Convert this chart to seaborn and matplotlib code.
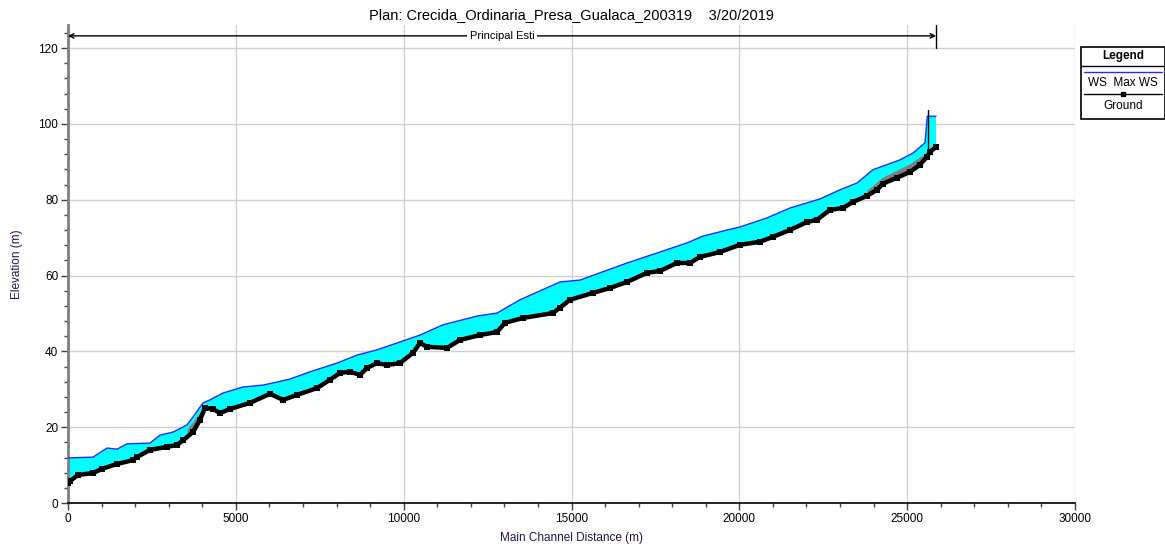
import numpy as np
import pandas as pd
import matplotlib
matplotlib.use("Agg")
import matplotlib.pyplot as plt
import seaborn as sns
from matplotlib.ticker import MultipleLocator
from matplotlib.patches import Rectangle
from matplotlib.lines import Line2D

# ---------------- data ----------------
title_text = "Plan: Crecida_Ordinaria_Presa_Gualaca_200319    3/20/2019"
reach_label = "Principal Esti"
reach_start = 0
reach_end = 25860

ws_dist = [0, 745, 1162, 1460, 1758, 2443, 2740, 3128, 3545, 3724, 4022, 4230,
           4617, 5213, 5809, 6226, 6613, 7209, 8014, 8609, 9205, 9801, 10486,
           11171, 12184, 12780, 13465, 14657, 15252, 15938, 16653, 17636, 18440,
           18917, 19632, 20019, 20823, 21508, 22402, 22998, 23504, 23981, 24785,
           25173, 25530, 25600, 25680, 25860]
ws_elev = [11.9, 12.1, 14.5, 14.2, 15.6, 15.8, 17.9, 18.7, 20.6, 22.7, 26.4, 27.2,
           29.0, 30.6, 31.1, 31.9, 32.7, 34.6, 36.9, 39.0, 40.4, 42.2, 44.3,
           47.0, 49.3, 50.1, 53.6, 58.3, 58.8, 61.0, 63.3, 66.2, 68.6,
           70.4, 72.0, 72.8, 75.2, 77.8, 80.2, 82.6, 84.4, 87.9, 90.5,
           92.3, 95.0, 102.0, 102.0, 102.0]

ground_dist = [0, 60, 300, 745, 1013, 1460, 1936, 2055, 2443, 2950, 3247, 3426,
               3724, 3932, 4081, 4320, 4528, 4826, 5422, 6018, 6405, 6822, 7418,
               7805, 8103, 8401, 8699, 8907, 9205, 9503, 9890, 10278, 10486, 10695,
               11290, 11678, 12273, 12780, 13018, 13554, 14448, 14657, 14955, 15640,
               16146, 16653, 17248, 17636, 18142, 18529, 18827, 19423, 20019, 20615,
               21002, 21508, 22015, 22313, 22700, 23087, 23385, 23802, 24100, 24279,
               24696, 25083, 25381, 25590, 25680, 25860]
ground_elev = [5.3, 5.8, 7.4, 7.9, 9.0, 10.3, 11.3, 12.1, 14.0, 14.8, 15.3, 16.5,
               18.7, 21.9, 25.1, 24.8, 23.7, 24.8, 26.4, 28.8, 27.2, 28.5, 30.3,
               32.5, 34.3, 34.6, 33.8, 35.6, 36.9, 36.4, 36.9, 39.6, 42.2, 41.2,
               40.9, 43.0, 44.3, 45.1, 47.5, 48.8, 50.1, 51.5, 53.6, 55.4,
               56.7, 58.3, 60.7, 61.2, 63.3, 63.3, 64.9, 66.2, 68.1, 68.9,
               70.2, 72.0, 74.1, 74.7, 77.3, 77.8, 79.4, 81.0, 82.6, 84.2,
               85.8, 87.3, 89.2, 91.3, 92.6, 93.9]

# grey (interpolated ground) bands
gray1_dist = [3545, 3724, 3932, 4081]
gray1_low = [17.5, 18.7, 21.9, 25.0]
gray1_high = [19.5, 21.5, 24.0, 25.8]
gray2_dist = [23800, 24279, 24696, 25083, 25381, 25590]
gray2_low = [81.0, 84.0, 85.5, 87.3, 89.2, 91.3]
gray2_high = [82.5, 86.0, 87.8, 89.5, 91.3, 92.5]

# structure line near upstream end
struct_dist = [25620, 25620]
struct_elev = [92.0, 103.7]

# ---------------- style ----------------
sns.set_theme(style="white")
plt.rcParams["font.family"] = ["Liberation Sans", "DejaVu Sans"]

W, H = 1165, 548
fig = plt.figure(figsize=(W / 100, H / 100), dpi=100)
ax = fig.add_axes([68 / W, 45 / H, 1007 / W, 478 / H])

ws_df = pd.DataFrame({"dist": ws_dist, "elev": ws_elev})
gr_df = pd.DataFrame({"dist": ground_dist, "elev": ground_elev})

# water fill between WS and ground
poly_x = list(ws_dist) + list(ground_dist)[::-1]
poly_y = list(ws_elev) + list(ground_elev)[::-1]
ax.fill(poly_x, poly_y, color="#00FFFF", lw=0, zorder=2)

ax.fill_between(gray1_dist, gray1_low, gray1_high, color="#808080", lw=0, zorder=3)
ax.fill_between(gray2_dist, gray2_low, gray2_high, color="#808080", lw=0, zorder=3)

sns.lineplot(data=ws_df, x="dist", y="elev", ax=ax, color="#2a2aff", lw=1.0,
             sort=False, estimator=None, zorder=4)
sns.lineplot(data=gr_df, x="dist", y="elev", ax=ax, color="black", lw=3.2,
             marker="s", markersize=4.5, markeredgewidth=0, sort=False,
             estimator=None, zorder=5)
ax.plot(struct_dist, struct_elev, color="black", lw=1.0, zorder=6)

# axes
ax.set_xlim(0, 30000)
ax.set_ylim(0, 126.07)
ax.xaxis.set_major_locator(MultipleLocator(5000))
ax.xaxis.set_minor_locator(MultipleLocator(1000))
ax.set_yticks([0, 20, 40, 60, 80, 100, 120])
ax.yaxis.set_minor_locator(MultipleLocator(4))
ax.grid(True, which="major", color="#d0d0d0", lw=1.0, zorder=0)
ax.set_axisbelow(True)
for s in ["top", "right"]:
    ax.spines[s].set_visible(False)
ax.spines["left"].set_color("#7f7f7f")
ax.spines["left"].set_linewidth(2.0)
ax.spines["bottom"].set_color("black")
ax.spines["bottom"].set_linewidth(1.2)
ax.tick_params(axis="both", which="major", direction="out", length=5, width=1,
               color="#404040", labelsize=8.5, labelcolor="black", pad=2,
               bottom=True, left=True)
ax.tick_params(axis="both", which="minor", direction="out", length=3, width=1,
               color="#404040", bottom=True, left=True)

ax.set_xlabel("Main Channel Distance (m)", fontsize=8.5, color="#1c1a4a")
ax.set_ylabel("Elevation (m)", fontsize=8.5, color="#1c1a4a")
ax.yaxis.set_label_coords(-0.045, 0.5)
ax.xaxis.set_label_coords(0.5, -0.06)
ax.set_title(title_text, fontsize=10.5, color="black", pad=4)

# reach annotation
y_arrow = 123.2
ax.annotate("", xy=(reach_start, y_arrow), xytext=(reach_end, y_arrow),
            arrowprops=dict(arrowstyle="<->", lw=1.0, color="black",
                            shrinkA=0, shrinkB=0, mutation_scale=8),
            annotation_clip=False, zorder=7)
ax.plot([reach_end, reach_end], [120, 126.07], color="black", lw=1.0,
        clip_on=False, zorder=7)
ax.text((reach_start + reach_end) / 2, y_arrow, reach_label, ha="center",
        va="center", fontsize=8, color="black", zorder=8,
        bbox=dict(facecolor="white", edgecolor="none", pad=2))

# custom legend box
lax = fig.add_axes([1081 / W, 1 - 119 / H, 84 / W, 72 / H])
lax.set_xlim(0, 1)
lax.set_ylim(0, 1)
lax.axis("off")
lax.add_patch(Rectangle((0, 0), 1, 1, fill=False, edgecolor="black", lw=1.2,
                        transform=lax.transAxes, clip_on=False))
lax.text(0.5, 0.875, "Legend", ha="center", va="center", fontsize=8.5,
         fontweight="bold", color="black")
lax.add_line(Line2D([0, 1], [0.74, 0.74], color="black", lw=1.0))
lax.add_line(Line2D([0.03, 0.97], [0.655, 0.655], color="#2a2aff", lw=1.0))
lax.text(0.5, 0.5, "WS  Max WS", ha="center", va="center", fontsize=8.5, color="black")
lax.add_line(Line2D([0.03, 0.97], [0.345, 0.345], color="black", lw=1.0))
lax.plot([0.5], [0.345], marker="s", color="black", markersize=3)
lax.text(0.5, 0.18, "Ground", ha="center", va="center", fontsize=8.5, color="black")

fig.savefig("out.png", dpi=100)
